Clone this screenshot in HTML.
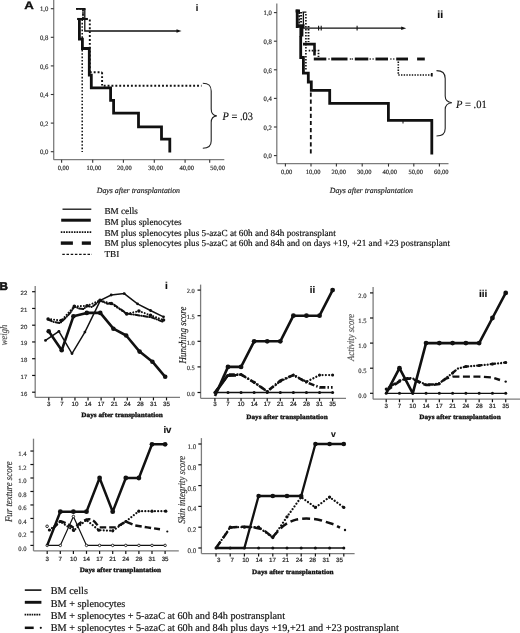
<!DOCTYPE html>
<html><head><meta charset="utf-8"><style>
html,body{margin:0;padding:0;background:#fff;width:520px;height:633px;overflow:hidden;}
svg{display:block;filter:grayscale(1);} text{text-rendering:geometricPrecision;}
</style></head><body>
<svg width="520" height="633" viewBox="0 0 520 633">
<rect width="520" height="633" fill="#fff"/>
<text x="24.20" y="8.90" font-family='"Liberation Sans", sans-serif' font-size="10.8" text-anchor="start" font-weight="bold" font-style="normal" fill="#111" stroke="#111" stroke-width="0.3" textLength="9.6" lengthAdjust="spacingAndGlyphs">A</text>
<text x="-0.50" y="289.60" font-family='"Liberation Sans", sans-serif' font-size="11.2" text-anchor="start" font-weight="bold" font-style="normal" fill="#111" stroke="#111" stroke-width="0.6" textLength="8.4" lengthAdjust="spacingAndGlyphs">B</text>
<line x1="53.70" y1="0.00" x2="53.70" y2="159.70" stroke="#7c7c7c" stroke-width="1.3" />
<line x1="53.70" y1="159.70" x2="224.30" y2="159.70" stroke="#7c7c7c" stroke-width="1.3" />
<line x1="50.80" y1="151.70" x2="53.70" y2="151.70" stroke="#333" stroke-width="1.1" />
<text x="48.30" y="154.40" font-family='"Liberation Serif", serif' font-size="6.7" text-anchor="end" font-weight="normal" font-style="normal" fill="#333" stroke="#333" stroke-width="0.18" >0,0</text>
<line x1="50.80" y1="123.10" x2="53.70" y2="123.10" stroke="#333" stroke-width="1.1" />
<text x="48.30" y="125.80" font-family='"Liberation Serif", serif' font-size="6.7" text-anchor="end" font-weight="normal" font-style="normal" fill="#333" stroke="#333" stroke-width="0.18" >0,2</text>
<line x1="50.80" y1="94.50" x2="53.70" y2="94.50" stroke="#333" stroke-width="1.1" />
<text x="48.30" y="97.20" font-family='"Liberation Serif", serif' font-size="6.7" text-anchor="end" font-weight="normal" font-style="normal" fill="#333" stroke="#333" stroke-width="0.18" >0,4</text>
<line x1="50.80" y1="65.90" x2="53.70" y2="65.90" stroke="#333" stroke-width="1.1" />
<text x="48.30" y="68.60" font-family='"Liberation Serif", serif' font-size="6.7" text-anchor="end" font-weight="normal" font-style="normal" fill="#333" stroke="#333" stroke-width="0.18" >0,6</text>
<line x1="50.80" y1="37.30" x2="53.70" y2="37.30" stroke="#333" stroke-width="1.1" />
<text x="48.30" y="40.00" font-family='"Liberation Serif", serif' font-size="6.7" text-anchor="end" font-weight="normal" font-style="normal" fill="#333" stroke="#333" stroke-width="0.18" >0,8</text>
<line x1="50.80" y1="8.70" x2="53.70" y2="8.70" stroke="#333" stroke-width="1.1" />
<text x="48.30" y="11.40" font-family='"Liberation Serif", serif' font-size="6.7" text-anchor="end" font-weight="normal" font-style="normal" fill="#333" stroke="#333" stroke-width="0.18" >1,0</text>
<line x1="61.60" y1="159.70" x2="61.60" y2="162.70" stroke="#333" stroke-width="1.1" />
<text x="63.40" y="170.40" font-family='"Liberation Serif", serif' font-size="6.5" text-anchor="middle" font-weight="normal" font-style="normal" fill="#2a2a2a" stroke="#2a2a2a" stroke-width="0.18" >0,00</text>
<line x1="92.70" y1="159.70" x2="92.70" y2="162.70" stroke="#333" stroke-width="1.1" />
<text x="93.90" y="170.40" font-family='"Liberation Serif", serif' font-size="6.5" text-anchor="middle" font-weight="normal" font-style="normal" fill="#2a2a2a" stroke="#2a2a2a" stroke-width="0.18" >10,00</text>
<line x1="123.40" y1="159.70" x2="123.40" y2="162.70" stroke="#333" stroke-width="1.1" />
<text x="124.40" y="170.40" font-family='"Liberation Serif", serif' font-size="6.5" text-anchor="middle" font-weight="normal" font-style="normal" fill="#2a2a2a" stroke="#2a2a2a" stroke-width="0.18" >20,00</text>
<line x1="154.30" y1="159.70" x2="154.30" y2="162.70" stroke="#333" stroke-width="1.1" />
<text x="155.60" y="170.40" font-family='"Liberation Serif", serif' font-size="6.5" text-anchor="middle" font-weight="normal" font-style="normal" fill="#2a2a2a" stroke="#2a2a2a" stroke-width="0.18" >30,00</text>
<line x1="185.10" y1="159.70" x2="185.10" y2="162.70" stroke="#333" stroke-width="1.1" />
<text x="186.70" y="170.40" font-family='"Liberation Serif", serif' font-size="6.5" text-anchor="middle" font-weight="normal" font-style="normal" fill="#2a2a2a" stroke="#2a2a2a" stroke-width="0.18" >40,00</text>
<line x1="209.70" y1="159.70" x2="209.70" y2="162.70" stroke="#333" stroke-width="1.1" />
<text x="217.60" y="170.40" font-family='"Liberation Serif", serif' font-size="6.5" text-anchor="middle" font-weight="normal" font-style="normal" fill="#2a2a2a" stroke="#2a2a2a" stroke-width="0.18" >50,00</text>
<text x="138.40" y="192.60" font-family='"Liberation Serif", serif' font-size="7.85" text-anchor="middle" font-weight="normal" font-style="italic" fill="#222" stroke="#222" stroke-width="0.18" >Days after transplantation</text>
<text x="195.70" y="11.40" font-family='"Liberation Sans", sans-serif' font-size="9.2" text-anchor="start" font-weight="bold" font-style="normal" fill="#111" stroke="#111" stroke-width="0.18" >i</text>
<path d="M76.5,8.9 H83 V19" fill="none" stroke="#111" stroke-width="1.4" stroke-dasharray="1.5 1.6"/>
<path d="M82.2,19.5 V152" fill="none" stroke="#111" stroke-width="1.5" stroke-dasharray="1.6 1.77"/>
<path d="M76,8.9 H85.6" fill="none" stroke="#111" stroke-width="1.8" />
<path d="M84.8,8.9 V31 H178" fill="none" stroke="#111" stroke-width="1.3" />
<path d="M181.5,31 L176.5,29.2 L176.5,32.8 Z" fill="#111"/>
<path d="M83,9.5 V19" fill="none" stroke="#111" stroke-width="1.8" stroke-dasharray="1.9 1.9"/>
<path d="M89.8,19.5 V72.3" fill="none" stroke="#111" stroke-width="1.9" stroke-dasharray="1.9 2.0"/>
<path d="M89.8,72.3 H102.1" fill="none" stroke="#111" stroke-width="1.9" stroke-dasharray="1.9 2.0"/>
<path d="M102.1,72.3 V85.6" fill="none" stroke="#111" stroke-width="1.9" stroke-dasharray="1.9 2.0"/>
<path d="M103.5,85.7 H201.5" fill="none" stroke="#111" stroke-width="1.9" stroke-dasharray="1.9 1.99" stroke-dashoffset="-0.2"/>
<path d="M77.1,19 H87.9" fill="none" stroke="#111" stroke-width="2.1" />
<path d="M79.4,19 V39.2 H82.4 V48.5 H89.3 V75.2 H91.3 V87.9 H110.6 V100.4 H113.6 V113.2 H138.5 V126.9 H161.5 V139.2 H169.8 V152.5" fill="none" stroke="#111" stroke-width="2.8" stroke-linejoin="miter"/>
<path d="M202.8,83.2 C209,83.2 211.2,85.5 211.2,91 V109 C211.2,113 213,115.5 216.8,115.9 C213,116.3 211.2,118.8 211.2,122.5 V141 C211.2,146 209,148.3 202.8,148.3" fill="none" stroke="#222" stroke-width="1.1" />
<text x="222.6" y="120.4" font-family='"Liberation Serif", serif' font-size="11.4" fill="#111" stroke="#111" stroke-width="0.15" textLength="30.4" lengthAdjust="spacingAndGlyphs"><tspan font-style="italic">P</tspan> = .03</text>
<line x1="276.80" y1="3.50" x2="276.80" y2="163.60" stroke="#7c7c7c" stroke-width="1.3" />
<line x1="276.80" y1="163.60" x2="448.50" y2="163.60" stroke="#7c7c7c" stroke-width="1.3" />
<line x1="273.90" y1="155.60" x2="276.80" y2="155.60" stroke="#333" stroke-width="1.1" />
<text x="271.90" y="158.30" font-family='"Liberation Serif", serif' font-size="6.7" text-anchor="end" font-weight="normal" font-style="normal" fill="#333" stroke="#333" stroke-width="0.18" >0,0</text>
<line x1="273.90" y1="127.00" x2="276.80" y2="127.00" stroke="#333" stroke-width="1.1" />
<text x="271.90" y="129.70" font-family='"Liberation Serif", serif' font-size="6.7" text-anchor="end" font-weight="normal" font-style="normal" fill="#333" stroke="#333" stroke-width="0.18" >0,2</text>
<line x1="273.90" y1="98.40" x2="276.80" y2="98.40" stroke="#333" stroke-width="1.1" />
<text x="271.90" y="101.10" font-family='"Liberation Serif", serif' font-size="6.7" text-anchor="end" font-weight="normal" font-style="normal" fill="#333" stroke="#333" stroke-width="0.18" >0,4</text>
<line x1="273.90" y1="69.80" x2="276.80" y2="69.80" stroke="#333" stroke-width="1.1" />
<text x="271.90" y="72.50" font-family='"Liberation Serif", serif' font-size="6.7" text-anchor="end" font-weight="normal" font-style="normal" fill="#333" stroke="#333" stroke-width="0.18" >0,6</text>
<line x1="273.90" y1="41.20" x2="276.80" y2="41.20" stroke="#333" stroke-width="1.1" />
<text x="271.90" y="43.90" font-family='"Liberation Serif", serif' font-size="6.7" text-anchor="end" font-weight="normal" font-style="normal" fill="#333" stroke="#333" stroke-width="0.18" >0,8</text>
<line x1="273.90" y1="12.60" x2="276.80" y2="12.60" stroke="#333" stroke-width="1.1" />
<text x="271.90" y="15.30" font-family='"Liberation Serif", serif' font-size="6.7" text-anchor="end" font-weight="normal" font-style="normal" fill="#333" stroke="#333" stroke-width="0.18" >1,0</text>
<line x1="285.40" y1="163.60" x2="285.40" y2="166.60" stroke="#333" stroke-width="1.1" />
<text x="286.60" y="174.00" font-family='"Liberation Serif", serif' font-size="6.5" text-anchor="middle" font-weight="normal" font-style="normal" fill="#2a2a2a" stroke="#2a2a2a" stroke-width="0.18" >0,00</text>
<line x1="311.00" y1="163.60" x2="311.00" y2="166.60" stroke="#333" stroke-width="1.1" />
<text x="313.10" y="174.00" font-family='"Liberation Serif", serif' font-size="6.5" text-anchor="middle" font-weight="normal" font-style="normal" fill="#2a2a2a" stroke="#2a2a2a" stroke-width="0.18" >10,00</text>
<line x1="336.40" y1="163.60" x2="336.40" y2="166.60" stroke="#333" stroke-width="1.1" />
<text x="338.70" y="174.00" font-family='"Liberation Serif", serif' font-size="6.5" text-anchor="middle" font-weight="normal" font-style="normal" fill="#2a2a2a" stroke="#2a2a2a" stroke-width="0.18" >20,00</text>
<line x1="362.20" y1="163.60" x2="362.20" y2="166.60" stroke="#333" stroke-width="1.1" />
<text x="364.30" y="174.00" font-family='"Liberation Serif", serif' font-size="6.5" text-anchor="middle" font-weight="normal" font-style="normal" fill="#2a2a2a" stroke="#2a2a2a" stroke-width="0.18" >30,00</text>
<line x1="388.50" y1="163.60" x2="388.50" y2="166.60" stroke="#333" stroke-width="1.1" />
<text x="389.80" y="174.00" font-family='"Liberation Serif", serif' font-size="6.5" text-anchor="middle" font-weight="normal" font-style="normal" fill="#2a2a2a" stroke="#2a2a2a" stroke-width="0.18" >40,00</text>
<line x1="413.80" y1="163.60" x2="413.80" y2="166.60" stroke="#333" stroke-width="1.1" />
<text x="415.80" y="174.00" font-family='"Liberation Serif", serif' font-size="6.5" text-anchor="middle" font-weight="normal" font-style="normal" fill="#2a2a2a" stroke="#2a2a2a" stroke-width="0.18" >50,00</text>
<line x1="439.40" y1="163.60" x2="439.40" y2="166.60" stroke="#333" stroke-width="1.1" />
<text x="441.20" y="174.00" font-family='"Liberation Serif", serif' font-size="6.5" text-anchor="middle" font-weight="normal" font-style="normal" fill="#2a2a2a" stroke="#2a2a2a" stroke-width="0.18" >60,00</text>
<text x="371.40" y="192.60" font-family='"Liberation Serif", serif' font-size="7.85" text-anchor="middle" font-weight="normal" font-style="italic" fill="#222" stroke="#222" stroke-width="0.18" >Days after transplantation</text>
<text x="437.30" y="18.30" font-family='"Liberation Sans", sans-serif' font-size="10.4" text-anchor="start" font-weight="bold" font-style="normal" fill="#111" stroke="#111" stroke-width="0.18" >ii</text>
<path d="M295.6,11 H300" fill="none" stroke="#111" stroke-width="3.0" />
<path d="M297.2,9.6 V28" fill="none" stroke="#111" stroke-width="2.8" />
<path d="M297,26 H304.5" fill="none" stroke="#111" stroke-width="3.5" />
<path d="M299.2,12 V24" fill="none" stroke="#111" stroke-width="1.8" stroke-dasharray="2 1.2"/>
<path d="M301.4,26 V36.5" fill="none" stroke="#111" stroke-width="4.0" />
<path d="M300.7,36 V57.5 H303.4 V73.2 H308.3 V82 H311.3 V90.4 H329.7 V103.3 H388.4 V120.3 H431.8 V154.5" fill="none" stroke="#111" stroke-width="2.8" stroke-linejoin="miter"/>
<line x1="403.00" y1="121.00" x2="403.00" y2="123.50" stroke="#111" stroke-width="1.0" />
<path d="M302.4,12.2 H306.4 M303.4,12.2 V28.2 H403" fill="none" stroke="#111" stroke-width="1.3" />
<line x1="318.60" y1="25.80" x2="318.60" y2="30.40" stroke="#111" stroke-width="1.1" />
<line x1="321.20" y1="25.80" x2="321.20" y2="30.40" stroke="#111" stroke-width="1.1" />
<line x1="357.10" y1="25.80" x2="357.10" y2="30.40" stroke="#111" stroke-width="1.1" />
<path d="M406.2,28.2 L401.2,26.4 L401.2,30 Z" fill="#111"/>
<path d="M303,44.1 H314.5 V55.5" fill="none" stroke="#111" stroke-width="2.6" />
<line x1="313.80" y1="59.00" x2="326.30" y2="59.00" stroke="#111" stroke-width="2.9" />
<line x1="331.20" y1="59.00" x2="347.50" y2="59.00" stroke="#111" stroke-width="2.9" />
<line x1="354.80" y1="59.00" x2="368.30" y2="59.00" stroke="#111" stroke-width="2.9" />
<line x1="375.50" y1="59.00" x2="388.00" y2="59.00" stroke="#111" stroke-width="2.9" />
<line x1="396.20" y1="59.00" x2="408.00" y2="59.00" stroke="#111" stroke-width="2.9" />
<line x1="417.10" y1="59.00" x2="424.80" y2="59.00" stroke="#111" stroke-width="2.9" />
<path d="M301.1,12 V23" fill="none" stroke="#111" stroke-width="2.0" stroke-dasharray="1.6 1.4"/>
<path d="M305.9,14 V70" fill="none" stroke="#111" stroke-width="1.6" stroke-dasharray="1.5 1.5"/>
<path d="M308.5,26 V42" fill="none" stroke="#111" stroke-width="1.9" stroke-dasharray="1.5 1.5"/>
<path d="M308.7,50.6 H318.5 V57" fill="none" stroke="#111" stroke-width="1.8" stroke-dasharray="1.5 1.5"/>
<circle cx="329.00" cy="59.00" r="0.8" fill="#111"/>
<circle cx="350.40" cy="59.00" r="0.8" fill="#111"/>
<circle cx="352.30" cy="59.00" r="0.8" fill="#111"/>
<circle cx="370.20" cy="59.00" r="0.8" fill="#111"/>
<circle cx="373.10" cy="59.00" r="0.8" fill="#111"/>
<circle cx="390.90" cy="59.00" r="0.8" fill="#111"/>
<circle cx="393.80" cy="59.00" r="0.8" fill="#111"/>
<path d="M398.3,61.5 V75 H431" fill="none" stroke="#111" stroke-width="1.6" stroke-dasharray="1.4 1.3"/>
<line x1="431.80" y1="73.00" x2="431.80" y2="76.50" stroke="#111" stroke-width="1.8" />
<path d="M310.8,91 V156" fill="none" stroke="#111" stroke-width="1.8" stroke-dasharray="4.2 2.9" stroke-dashoffset="-1.5"/>
<path d="M436.5,70.6 C442.5,70.6 445.2,73 445.2,78.5 V96 C445.2,100 447,102.3 451.9,102.7 C447,103.1 445.2,105.4 445.2,109.5 V128.5 C445.2,133.5 442.5,136 436.5,136" fill="none" stroke="#222" stroke-width="1.1" />
<text x="456.0" y="107.5" font-family='"Liberation Serif", serif' font-size="11.1" fill="#111" stroke="#111" stroke-width="0.15" textLength="30.8" lengthAdjust="spacingAndGlyphs"><tspan font-style="italic">P</tspan> = .01</text>
<line x1="62.50" y1="209.20" x2="91.30" y2="209.20" stroke="#111" stroke-width="1.3" />
<line x1="61.20" y1="220.20" x2="90.80" y2="220.20" stroke="#111" stroke-width="3.0" />
<line x1="60.80" y1="232.20" x2="91.60" y2="232.20" stroke="#111" stroke-width="1.8" stroke-dasharray="1.6 1.02"/>
<line x1="60.80" y1="243.10" x2="72.90" y2="243.10" stroke="#111" stroke-width="3.4" />
<line x1="81.80" y1="243.10" x2="90.90" y2="243.10" stroke="#111" stroke-width="3.4" />
<line x1="62.30" y1="254.40" x2="92.00" y2="254.40" stroke="#111" stroke-width="1.2" stroke-dasharray="2.5 1.7"/>
<text x="104.40" y="213.70" font-family='"Liberation Serif", serif' font-size="9.21" text-anchor="start" font-weight="normal" font-style="normal" fill="#111" stroke="#111" stroke-width="0.18" >BM cells</text>
<text x="104.40" y="224.63" font-family='"Liberation Serif", serif' font-size="9.21" text-anchor="start" font-weight="normal" font-style="normal" fill="#111" stroke="#111" stroke-width="0.18" >BM plus splenocytes</text>
<text x="104.40" y="235.56" font-family='"Liberation Serif", serif' font-size="9.21" text-anchor="start" font-weight="normal" font-style="normal" fill="#111" stroke="#111" stroke-width="0.18" >BM plus splenocytes plus 5-azaC at 60h and 84h postransplant</text>
<text x="104.40" y="246.49" font-family='"Liberation Serif", serif' font-size="9.21" text-anchor="start" font-weight="normal" font-style="normal" fill="#111" stroke="#111" stroke-width="0.18" >BM plus splenocytes plus 5-azaC at 60h and 84h and on days +19, +21 and +23 postransplant</text>
<text x="104.40" y="257.42" font-family='"Liberation Serif", serif' font-size="9.21" text-anchor="start" font-weight="normal" font-style="normal" fill="#111" stroke="#111" stroke-width="0.18" >TBI</text>
<line x1="24.80" y1="590.10" x2="41.40" y2="590.10" stroke="#111" stroke-width="1.6" />
<line x1="24.80" y1="602.30" x2="41.40" y2="602.30" stroke="#111" stroke-width="2.9" />
<line x1="24.60" y1="614.70" x2="40.50" y2="614.70" stroke="#111" stroke-width="1.7" stroke-dasharray="1.6 0.75"/>
<line x1="24.80" y1="627.80" x2="33.70" y2="627.80" stroke="#111" stroke-width="2.5" />
<circle cx="40.80" cy="627.80" r="1.1" fill="#111"/>
<text x="50.70" y="594.30" font-family='"Liberation Serif", serif' font-size="10.22" text-anchor="start" font-weight="normal" font-style="normal" fill="#111" stroke="#111" stroke-width="0.18" >BM cells</text>
<text x="50.70" y="606.50" font-family='"Liberation Serif", serif' font-size="10.22" text-anchor="start" font-weight="normal" font-style="normal" fill="#111" stroke="#111" stroke-width="0.18" >BM + splenocytes</text>
<text x="50.70" y="618.70" font-family='"Liberation Serif", serif' font-size="10.22" text-anchor="start" font-weight="normal" font-style="normal" fill="#111" stroke="#111" stroke-width="0.18" >BM + splenocytes + 5-azaC at 60h and 84h postransplant</text>
<text x="50.70" y="630.90" font-family='"Liberation Serif", serif' font-size="10.22" text-anchor="start" font-weight="normal" font-style="normal" fill="#111" stroke="#111" stroke-width="0.18" >BM + splenocytes + 5-azaC at 60h and 84h plus days +19,+21 and +23 postransplant</text>
<line x1="35.20" y1="286.00" x2="35.20" y2="397.40" stroke="#7c7c7c" stroke-width="1.3" />
<line x1="35.20" y1="397.40" x2="180.00" y2="397.40" stroke="#7c7c7c" stroke-width="1.3" />
<line x1="32.10" y1="392.20" x2="35.20" y2="392.20" stroke="#111" stroke-width="1.2" />
<text x="27.30" y="395.60" font-family='"Liberation Sans", sans-serif' font-size="6.0" text-anchor="end" font-weight="normal" font-style="normal" fill="#333" stroke="#333" stroke-width="0.15" >16</text>
<line x1="32.10" y1="375.45" x2="35.20" y2="375.45" stroke="#111" stroke-width="1.2" />
<text x="27.30" y="378.85" font-family='"Liberation Sans", sans-serif' font-size="6.0" text-anchor="end" font-weight="normal" font-style="normal" fill="#333" stroke="#333" stroke-width="0.15" >17</text>
<line x1="32.10" y1="358.70" x2="35.20" y2="358.70" stroke="#111" stroke-width="1.2" />
<text x="27.30" y="362.10" font-family='"Liberation Sans", sans-serif' font-size="6.0" text-anchor="end" font-weight="normal" font-style="normal" fill="#333" stroke="#333" stroke-width="0.15" >18</text>
<line x1="32.10" y1="341.95" x2="35.20" y2="341.95" stroke="#111" stroke-width="1.2" />
<text x="27.30" y="345.35" font-family='"Liberation Sans", sans-serif' font-size="6.0" text-anchor="end" font-weight="normal" font-style="normal" fill="#333" stroke="#333" stroke-width="0.15" >19</text>
<line x1="32.10" y1="325.20" x2="35.20" y2="325.20" stroke="#111" stroke-width="1.2" />
<text x="27.30" y="328.60" font-family='"Liberation Sans", sans-serif' font-size="6.0" text-anchor="end" font-weight="normal" font-style="normal" fill="#333" stroke="#333" stroke-width="0.15" >20</text>
<line x1="32.10" y1="308.45" x2="35.20" y2="308.45" stroke="#111" stroke-width="1.2" />
<text x="27.30" y="311.85" font-family='"Liberation Sans", sans-serif' font-size="6.0" text-anchor="end" font-weight="normal" font-style="normal" fill="#333" stroke="#333" stroke-width="0.15" >21</text>
<line x1="32.10" y1="291.70" x2="35.20" y2="291.70" stroke="#111" stroke-width="1.2" />
<text x="27.30" y="295.10" font-family='"Liberation Sans", sans-serif' font-size="6.0" text-anchor="end" font-weight="normal" font-style="normal" fill="#333" stroke="#333" stroke-width="0.15" >22</text>
<line x1="48.80" y1="397.40" x2="48.80" y2="400.40" stroke="#111" stroke-width="1.2" />
<line x1="61.88" y1="397.40" x2="61.88" y2="400.40" stroke="#111" stroke-width="1.2" />
<line x1="74.96" y1="397.40" x2="74.96" y2="400.40" stroke="#111" stroke-width="1.2" />
<line x1="88.04" y1="397.40" x2="88.04" y2="400.40" stroke="#111" stroke-width="1.2" />
<line x1="101.12" y1="397.40" x2="101.12" y2="400.40" stroke="#111" stroke-width="1.2" />
<line x1="114.20" y1="397.40" x2="114.20" y2="400.40" stroke="#111" stroke-width="1.2" />
<line x1="127.28" y1="397.40" x2="127.28" y2="400.40" stroke="#111" stroke-width="1.2" />
<line x1="140.36" y1="397.40" x2="140.36" y2="400.40" stroke="#111" stroke-width="1.2" />
<line x1="153.44" y1="397.40" x2="153.44" y2="400.40" stroke="#111" stroke-width="1.2" />
<line x1="166.52" y1="397.40" x2="166.52" y2="400.40" stroke="#111" stroke-width="1.2" />
<text x="48.80" y="406.00" font-family='"Liberation Sans", sans-serif' font-size="6.2" text-anchor="middle" font-weight="normal" font-style="normal" fill="#222" stroke="#222" stroke-width="0.2" >3</text>
<text x="61.88" y="406.00" font-family='"Liberation Sans", sans-serif' font-size="6.2" text-anchor="middle" font-weight="normal" font-style="normal" fill="#222" stroke="#222" stroke-width="0.2" >7</text>
<text x="74.96" y="406.00" font-family='"Liberation Sans", sans-serif' font-size="6.2" text-anchor="middle" font-weight="normal" font-style="normal" fill="#222" stroke="#222" stroke-width="0.2" >10</text>
<text x="88.04" y="406.00" font-family='"Liberation Sans", sans-serif' font-size="6.2" text-anchor="middle" font-weight="normal" font-style="normal" fill="#222" stroke="#222" stroke-width="0.2" >14</text>
<text x="101.12" y="406.00" font-family='"Liberation Sans", sans-serif' font-size="6.2" text-anchor="middle" font-weight="normal" font-style="normal" fill="#222" stroke="#222" stroke-width="0.2" >17</text>
<text x="114.20" y="406.00" font-family='"Liberation Sans", sans-serif' font-size="6.2" text-anchor="middle" font-weight="normal" font-style="normal" fill="#222" stroke="#222" stroke-width="0.2" >21</text>
<text x="127.28" y="406.00" font-family='"Liberation Sans", sans-serif' font-size="6.2" text-anchor="middle" font-weight="normal" font-style="normal" fill="#222" stroke="#222" stroke-width="0.2" >24</text>
<text x="140.36" y="406.00" font-family='"Liberation Sans", sans-serif' font-size="6.2" text-anchor="middle" font-weight="normal" font-style="normal" fill="#222" stroke="#222" stroke-width="0.2" >28</text>
<text x="153.44" y="406.00" font-family='"Liberation Sans", sans-serif' font-size="6.2" text-anchor="middle" font-weight="normal" font-style="normal" fill="#222" stroke="#222" stroke-width="0.2" >31</text>
<text x="166.52" y="406.00" font-family='"Liberation Sans", sans-serif' font-size="6.2" text-anchor="middle" font-weight="normal" font-style="normal" fill="#222" stroke="#222" stroke-width="0.2" >35</text>
<text x="122.10" y="417.00" font-family='"Liberation Serif", serif' font-size="6.7" text-anchor="middle" font-weight="bold" font-style="normal" fill="#111" stroke="#111" stroke-width="0.32" textLength="81.5" lengthAdjust="spacingAndGlyphs">Days after transplantation</text>
<text x="0" y="0" transform="translate(6.70,335.00) rotate(-90) scale(1,1.15)" font-family='"Liberation Serif", serif' font-size="8.6" font-style="italic" text-anchor="middle" fill="#555" stroke="#555" stroke-width="0.15">weigh</text>
<text x="164.90" y="288.80" font-family='"Liberation Sans", sans-serif' font-size="10" text-anchor="start" font-weight="bold" font-style="normal" fill="#111" stroke="#111" stroke-width="0.18" >i</text>
<path d="M45.50,340.40 L58.90,331.30 L72.00,353.50 L84.90,332.10 L100.40,300.40 L111.20,295.00 L124.20,293.60 L137.50,303.80 L150.50,310.50 L163.50,316.80" fill="none" stroke="#111" stroke-width="1.45" />
<circle cx="45.50" cy="340.40" r="1.4" fill="#111"/>
<circle cx="58.90" cy="331.30" r="1.4" fill="#111"/>
<circle cx="72.00" cy="353.50" r="1.4" fill="#111"/>
<circle cx="84.90" cy="332.10" r="1.4" fill="#111"/>
<circle cx="100.40" cy="300.40" r="1.4" fill="#111"/>
<circle cx="111.20" cy="295.00" r="1.4" fill="#111"/>
<circle cx="124.20" cy="293.60" r="1.4" fill="#111"/>
<circle cx="137.50" cy="303.80" r="1.4" fill="#111"/>
<circle cx="150.50" cy="310.50" r="1.4" fill="#111"/>
<circle cx="163.50" cy="316.80" r="1.4" fill="#111"/>
<path d="M48.10,319.00 L61.30,320.60 L74.30,306.40 L87.10,305.80 L100.00,300.40 L111.20,303.50 L126.70,313.90 L138.90,311.00 L150.50,315.30 L163.50,320.00" fill="none" stroke="#111" stroke-width="2.0" stroke-dasharray="0.01 3.0" stroke-linecap="round"/>
<path d="M48.10,319.50 L53.50,321.90 L60.00,323.20 L67.00,316.50 L71.00,311.80 L74.30,306.40 L79.00,308.50 L83.70,309.10 L87.10,305.80 L91.80,307.10 L100.00,300.40 L107.30,303.70 L112.30,303.50 L126.70,313.50 L139.50,315.50 L152.00,317.50 L163.50,322.00" fill="none" stroke="#111" stroke-width="2.0" stroke-dasharray="4 2 0.01 2" stroke-linecap="round"/>
<circle cx="48.10" cy="319.00" r="1.8" fill="#111"/>
<circle cx="61.30" cy="320.60" r="1.8" fill="#111"/>
<circle cx="74.30" cy="306.40" r="1.8" fill="#111"/>
<circle cx="87.10" cy="305.80" r="1.8" fill="#111"/>
<circle cx="100.00" cy="300.40" r="1.8" fill="#111"/>
<circle cx="111.20" cy="303.50" r="1.8" fill="#111"/>
<circle cx="126.70" cy="313.90" r="1.8" fill="#111"/>
<circle cx="138.90" cy="311.00" r="1.8" fill="#111"/>
<circle cx="150.50" cy="315.30" r="1.8" fill="#111"/>
<circle cx="163.50" cy="320.00" r="1.8" fill="#111"/>
<path d="M48.70,331.20 L61.70,350.30 L73.40,316.30 L86.80,312.90 L100.30,312.90 L113.40,328.70 L126.20,335.50 L139.60,351.60 L152.40,361.70 L165.20,376.80" fill="none" stroke="#111" stroke-width="2.6" stroke-linejoin="round"/>
<circle cx="48.70" cy="331.20" r="2.3" fill="#111"/>
<circle cx="61.70" cy="350.30" r="2.3" fill="#111"/>
<circle cx="73.40" cy="316.30" r="2.3" fill="#111"/>
<circle cx="86.80" cy="312.90" r="2.3" fill="#111"/>
<circle cx="100.30" cy="312.90" r="2.3" fill="#111"/>
<circle cx="113.40" cy="328.70" r="2.3" fill="#111"/>
<circle cx="126.20" cy="335.50" r="2.3" fill="#111"/>
<circle cx="139.60" cy="351.60" r="2.3" fill="#111"/>
<circle cx="152.40" cy="361.70" r="2.3" fill="#111"/>
<circle cx="165.20" cy="376.80" r="2.3" fill="#111"/>
<line x1="200.60" y1="284.60" x2="200.60" y2="398.30" stroke="#7c7c7c" stroke-width="1.3" />
<line x1="200.60" y1="398.30" x2="346.00" y2="398.30" stroke="#7c7c7c" stroke-width="1.3" />
<line x1="197.50" y1="392.50" x2="200.60" y2="392.50" stroke="#111" stroke-width="1.2" />
<text x="194.80" y="395.70" font-family='"Liberation Serif", serif' font-size="6.4" text-anchor="end" font-weight="normal" font-style="normal" fill="#333" stroke="#333" stroke-width="0.15" >0.0</text>
<line x1="197.50" y1="366.90" x2="200.60" y2="366.90" stroke="#111" stroke-width="1.2" />
<text x="194.80" y="370.10" font-family='"Liberation Serif", serif' font-size="6.4" text-anchor="end" font-weight="normal" font-style="normal" fill="#333" stroke="#333" stroke-width="0.15" >0.5</text>
<line x1="197.50" y1="341.30" x2="200.60" y2="341.30" stroke="#111" stroke-width="1.2" />
<text x="194.80" y="344.50" font-family='"Liberation Serif", serif' font-size="6.4" text-anchor="end" font-weight="normal" font-style="normal" fill="#333" stroke="#333" stroke-width="0.15" >1.0</text>
<line x1="197.50" y1="315.70" x2="200.60" y2="315.70" stroke="#111" stroke-width="1.2" />
<text x="194.80" y="318.90" font-family='"Liberation Serif", serif' font-size="6.4" text-anchor="end" font-weight="normal" font-style="normal" fill="#333" stroke="#333" stroke-width="0.15" >1.5</text>
<line x1="197.50" y1="290.10" x2="200.60" y2="290.10" stroke="#111" stroke-width="1.2" />
<text x="194.80" y="293.30" font-family='"Liberation Serif", serif' font-size="6.4" text-anchor="end" font-weight="normal" font-style="normal" fill="#333" stroke="#333" stroke-width="0.15" >2.0</text>
<line x1="214.90" y1="398.30" x2="214.90" y2="401.30" stroke="#111" stroke-width="1.2" />
<line x1="227.98" y1="398.30" x2="227.98" y2="401.30" stroke="#111" stroke-width="1.2" />
<line x1="241.06" y1="398.30" x2="241.06" y2="401.30" stroke="#111" stroke-width="1.2" />
<line x1="254.14" y1="398.30" x2="254.14" y2="401.30" stroke="#111" stroke-width="1.2" />
<line x1="267.22" y1="398.30" x2="267.22" y2="401.30" stroke="#111" stroke-width="1.2" />
<line x1="280.30" y1="398.30" x2="280.30" y2="401.30" stroke="#111" stroke-width="1.2" />
<line x1="293.38" y1="398.30" x2="293.38" y2="401.30" stroke="#111" stroke-width="1.2" />
<line x1="306.46" y1="398.30" x2="306.46" y2="401.30" stroke="#111" stroke-width="1.2" />
<line x1="319.54" y1="398.30" x2="319.54" y2="401.30" stroke="#111" stroke-width="1.2" />
<line x1="332.62" y1="398.30" x2="332.62" y2="401.30" stroke="#111" stroke-width="1.2" />
<text x="214.90" y="406.40" font-family='"Liberation Sans", sans-serif' font-size="6.2" text-anchor="middle" font-weight="normal" font-style="normal" fill="#222" stroke="#222" stroke-width="0.2" >3</text>
<text x="227.98" y="406.40" font-family='"Liberation Sans", sans-serif' font-size="6.2" text-anchor="middle" font-weight="normal" font-style="normal" fill="#222" stroke="#222" stroke-width="0.2" >7</text>
<text x="241.06" y="406.40" font-family='"Liberation Sans", sans-serif' font-size="6.2" text-anchor="middle" font-weight="normal" font-style="normal" fill="#222" stroke="#222" stroke-width="0.2" >10</text>
<text x="254.14" y="406.40" font-family='"Liberation Sans", sans-serif' font-size="6.2" text-anchor="middle" font-weight="normal" font-style="normal" fill="#222" stroke="#222" stroke-width="0.2" >14</text>
<text x="267.22" y="406.40" font-family='"Liberation Sans", sans-serif' font-size="6.2" text-anchor="middle" font-weight="normal" font-style="normal" fill="#222" stroke="#222" stroke-width="0.2" >17</text>
<text x="280.30" y="406.40" font-family='"Liberation Sans", sans-serif' font-size="6.2" text-anchor="middle" font-weight="normal" font-style="normal" fill="#222" stroke="#222" stroke-width="0.2" >21</text>
<text x="293.38" y="406.40" font-family='"Liberation Sans", sans-serif' font-size="6.2" text-anchor="middle" font-weight="normal" font-style="normal" fill="#222" stroke="#222" stroke-width="0.2" >24</text>
<text x="306.46" y="406.40" font-family='"Liberation Sans", sans-serif' font-size="6.2" text-anchor="middle" font-weight="normal" font-style="normal" fill="#222" stroke="#222" stroke-width="0.2" >28</text>
<text x="319.54" y="406.40" font-family='"Liberation Sans", sans-serif' font-size="6.2" text-anchor="middle" font-weight="normal" font-style="normal" fill="#222" stroke="#222" stroke-width="0.2" >31</text>
<text x="332.62" y="406.40" font-family='"Liberation Sans", sans-serif' font-size="6.2" text-anchor="middle" font-weight="normal" font-style="normal" fill="#222" stroke="#222" stroke-width="0.2" >35</text>
<text x="287.00" y="418.50" font-family='"Liberation Serif", serif' font-size="6.7" text-anchor="middle" font-weight="bold" font-style="normal" fill="#111" stroke="#111" stroke-width="0.32" textLength="81.5" lengthAdjust="spacingAndGlyphs">Days after transplantation</text>
<text x="0" y="0" transform="translate(185.50,335.00) rotate(-90) scale(1,1.15)" font-family='"Liberation Serif", serif' font-size="9.0" font-style="italic" text-anchor="middle" fill="#222" stroke="#222" stroke-width="0.15">Hunching score</text>
<text x="309.80" y="292.70" font-family='"Liberation Sans", sans-serif' font-size="9.6" text-anchor="start" font-weight="bold" font-style="normal" fill="#111" stroke="#111" stroke-width="0.18" >ii</text>
<path d="M214.90,392.50 L227.98,392.50 L241.06,392.50 L254.14,392.50 L267.22,392.50 L280.30,392.50 L293.38,392.50 L306.46,392.50 L319.54,392.50 L332.62,392.50" fill="none" stroke="#111" stroke-width="1.35" />
<circle cx="214.90" cy="392.50" r="1.5" fill="#111"/>
<circle cx="227.98" cy="392.50" r="1.5" fill="#111"/>
<circle cx="241.06" cy="392.50" r="1.5" fill="#111"/>
<circle cx="254.14" cy="392.50" r="1.5" fill="#111"/>
<circle cx="267.22" cy="392.50" r="1.5" fill="#111"/>
<circle cx="280.30" cy="392.50" r="1.5" fill="#111"/>
<circle cx="293.38" cy="392.50" r="1.5" fill="#111"/>
<circle cx="306.46" cy="392.50" r="1.5" fill="#111"/>
<circle cx="319.54" cy="392.50" r="1.5" fill="#111"/>
<circle cx="332.62" cy="392.50" r="1.5" fill="#111"/>
<path d="M214.90,392.50 L227.98,374.58 L241.06,374.58 L254.14,382.26 L267.22,391.48 L280.30,380.72 L293.38,375.09 L306.46,382.26 L319.54,387.38 L332.62,387.38" fill="none" stroke="#111" stroke-width="2.6" stroke-dasharray="6 2 1.5 2"/>
<path d="M214.90,392.50 L227.98,375.60 L241.06,374.58 L254.14,382.26 L267.22,391.48 L280.30,381.24 L293.38,375.09 L306.46,381.75 L319.54,375.09 L332.62,375.09" fill="none" stroke="#111" stroke-width="2.2" stroke-dasharray="0.01 3.3" stroke-linecap="round"/>
<circle cx="227.98" cy="375.60" r="1.5" fill="#111"/>
<circle cx="241.06" cy="374.58" r="1.5" fill="#111"/>
<circle cx="254.14" cy="382.26" r="1.5" fill="#111"/>
<circle cx="267.22" cy="391.48" r="1.5" fill="#111"/>
<circle cx="280.30" cy="381.24" r="1.5" fill="#111"/>
<circle cx="293.38" cy="375.09" r="1.5" fill="#111"/>
<circle cx="306.46" cy="381.75" r="1.5" fill="#111"/>
<circle cx="319.54" cy="375.09" r="1.5" fill="#111"/>
<circle cx="332.62" cy="375.09" r="1.5" fill="#111"/>
<path d="M215,396 L227.98,366.90" fill="none" stroke="#111" stroke-width="2.6" />
<path d="M216.5,391 L227.5,375.6 L236,375.4" fill="none" stroke="#111" stroke-width="2.8" />
<path d="M227.98,366.90 L241.06,366.90 L254.14,341.30 L267.22,341.30 L280.30,341.30 L293.38,315.70 L306.46,315.70 L319.54,315.70 L332.62,290.10" fill="none" stroke="#111" stroke-width="2.6" stroke-linejoin="round"/>
<circle cx="227.98" cy="366.90" r="2.4" fill="#111"/>
<circle cx="241.06" cy="366.90" r="2.4" fill="#111"/>
<circle cx="254.14" cy="341.30" r="2.4" fill="#111"/>
<circle cx="267.22" cy="341.30" r="2.4" fill="#111"/>
<circle cx="280.30" cy="341.30" r="2.4" fill="#111"/>
<circle cx="293.38" cy="315.70" r="2.4" fill="#111"/>
<circle cx="306.46" cy="315.70" r="2.4" fill="#111"/>
<circle cx="319.54" cy="315.70" r="2.4" fill="#111"/>
<circle cx="332.62" cy="290.10" r="2.4" fill="#111"/>
<line x1="373.10" y1="286.90" x2="373.10" y2="399.20" stroke="#7c7c7c" stroke-width="1.3" />
<line x1="373.10" y1="399.20" x2="520.00" y2="399.20" stroke="#7c7c7c" stroke-width="1.3" />
<line x1="370.00" y1="393.30" x2="373.10" y2="393.30" stroke="#111" stroke-width="1.2" />
<text x="366.60" y="397.90" font-family='"Liberation Serif", serif' font-size="6.6" text-anchor="end" font-weight="normal" font-style="normal" fill="#333" stroke="#333" stroke-width="0.15" >0.0</text>
<line x1="370.00" y1="368.20" x2="373.10" y2="368.20" stroke="#111" stroke-width="1.2" />
<text x="366.60" y="372.80" font-family='"Liberation Serif", serif' font-size="6.6" text-anchor="end" font-weight="normal" font-style="normal" fill="#333" stroke="#333" stroke-width="0.15" >0.5</text>
<line x1="370.00" y1="343.10" x2="373.10" y2="343.10" stroke="#111" stroke-width="1.2" />
<text x="366.60" y="347.70" font-family='"Liberation Serif", serif' font-size="6.6" text-anchor="end" font-weight="normal" font-style="normal" fill="#333" stroke="#333" stroke-width="0.15" >1.0</text>
<line x1="370.00" y1="318.00" x2="373.10" y2="318.00" stroke="#111" stroke-width="1.2" />
<text x="366.60" y="322.60" font-family='"Liberation Serif", serif' font-size="6.6" text-anchor="end" font-weight="normal" font-style="normal" fill="#333" stroke="#333" stroke-width="0.15" >1.5</text>
<line x1="370.00" y1="292.90" x2="373.10" y2="292.90" stroke="#111" stroke-width="1.2" />
<text x="366.60" y="297.50" font-family='"Liberation Serif", serif' font-size="6.6" text-anchor="end" font-weight="normal" font-style="normal" fill="#333" stroke="#333" stroke-width="0.15" >2.0</text>
<line x1="386.20" y1="399.20" x2="386.20" y2="402.20" stroke="#111" stroke-width="1.2" />
<line x1="399.48" y1="399.20" x2="399.48" y2="402.20" stroke="#111" stroke-width="1.2" />
<line x1="412.76" y1="399.20" x2="412.76" y2="402.20" stroke="#111" stroke-width="1.2" />
<line x1="426.04" y1="399.20" x2="426.04" y2="402.20" stroke="#111" stroke-width="1.2" />
<line x1="439.32" y1="399.20" x2="439.32" y2="402.20" stroke="#111" stroke-width="1.2" />
<line x1="452.60" y1="399.20" x2="452.60" y2="402.20" stroke="#111" stroke-width="1.2" />
<line x1="465.88" y1="399.20" x2="465.88" y2="402.20" stroke="#111" stroke-width="1.2" />
<line x1="479.16" y1="399.20" x2="479.16" y2="402.20" stroke="#111" stroke-width="1.2" />
<line x1="492.44" y1="399.20" x2="492.44" y2="402.20" stroke="#111" stroke-width="1.2" />
<line x1="505.72" y1="399.20" x2="505.72" y2="402.20" stroke="#111" stroke-width="1.2" />
<text x="386.20" y="407.70" font-family='"Liberation Sans", sans-serif' font-size="6.2" text-anchor="middle" font-weight="normal" font-style="normal" fill="#222" stroke="#222" stroke-width="0.2" >3</text>
<text x="399.48" y="407.70" font-family='"Liberation Sans", sans-serif' font-size="6.2" text-anchor="middle" font-weight="normal" font-style="normal" fill="#222" stroke="#222" stroke-width="0.2" >7</text>
<text x="412.76" y="407.70" font-family='"Liberation Sans", sans-serif' font-size="6.2" text-anchor="middle" font-weight="normal" font-style="normal" fill="#222" stroke="#222" stroke-width="0.2" >10</text>
<text x="426.04" y="407.70" font-family='"Liberation Sans", sans-serif' font-size="6.2" text-anchor="middle" font-weight="normal" font-style="normal" fill="#222" stroke="#222" stroke-width="0.2" >14</text>
<text x="439.32" y="407.70" font-family='"Liberation Sans", sans-serif' font-size="6.2" text-anchor="middle" font-weight="normal" font-style="normal" fill="#222" stroke="#222" stroke-width="0.2" >17</text>
<text x="452.60" y="407.70" font-family='"Liberation Sans", sans-serif' font-size="6.2" text-anchor="middle" font-weight="normal" font-style="normal" fill="#222" stroke="#222" stroke-width="0.2" >21</text>
<text x="465.88" y="407.70" font-family='"Liberation Sans", sans-serif' font-size="6.2" text-anchor="middle" font-weight="normal" font-style="normal" fill="#222" stroke="#222" stroke-width="0.2" >24</text>
<text x="479.16" y="407.70" font-family='"Liberation Sans", sans-serif' font-size="6.2" text-anchor="middle" font-weight="normal" font-style="normal" fill="#222" stroke="#222" stroke-width="0.2" >28</text>
<text x="492.44" y="407.70" font-family='"Liberation Sans", sans-serif' font-size="6.2" text-anchor="middle" font-weight="normal" font-style="normal" fill="#222" stroke="#222" stroke-width="0.2" >31</text>
<text x="505.72" y="407.70" font-family='"Liberation Sans", sans-serif' font-size="6.2" text-anchor="middle" font-weight="normal" font-style="normal" fill="#222" stroke="#222" stroke-width="0.2" >35</text>
<text x="460.00" y="418.90" font-family='"Liberation Serif", serif' font-size="6.7" text-anchor="middle" font-weight="bold" font-style="normal" fill="#111" stroke="#111" stroke-width="0.32" textLength="81.5" lengthAdjust="spacingAndGlyphs">Days after transplantation</text>
<text x="0" y="0" transform="translate(354.30,337.40) rotate(-90) scale(1,1.15)" font-family='"Liberation Serif", serif' font-size="8.7" font-style="italic" text-anchor="middle" fill="#555" stroke="#555" stroke-width="0.15">Activity score</text>
<text x="479.00" y="296.50" font-family='"Liberation Sans", sans-serif' font-size="10" text-anchor="start" font-weight="bold" font-style="normal" fill="#111" stroke="#111" stroke-width="0.18" >iii</text>
<path d="M386.20,393.30 L399.48,393.30 L412.76,393.30 L426.04,393.30 L439.32,393.30 L452.60,393.30 L465.88,393.30 L479.16,393.30 L492.44,393.30 L505.72,393.30" fill="none" stroke="#111" stroke-width="1.35" />
<circle cx="386.20" cy="393.30" r="1.5" fill="#111"/>
<circle cx="399.48" cy="393.30" r="1.5" fill="#111"/>
<circle cx="412.76" cy="393.30" r="1.5" fill="#111"/>
<circle cx="426.04" cy="393.30" r="1.5" fill="#111"/>
<circle cx="439.32" cy="393.30" r="1.5" fill="#111"/>
<circle cx="452.60" cy="393.30" r="1.5" fill="#111"/>
<circle cx="465.88" cy="393.30" r="1.5" fill="#111"/>
<circle cx="479.16" cy="393.30" r="1.5" fill="#111"/>
<circle cx="492.44" cy="393.30" r="1.5" fill="#111"/>
<circle cx="505.72" cy="393.30" r="1.5" fill="#111"/>
<path d="M386.20,391.00 L399.50,381.50 L408.00,378.50 L413.00,379.00 L420.00,383.00 L426.00,385.00 L433.00,385.00 L439.30,384.00 L446.00,378.50 L452.60,376.60 L479.20,376.60 L492.40,377.50 L500.00,380.00" fill="none" stroke="#111" stroke-width="2.4" stroke-dasharray="7 3.5"/>
<circle cx="505.70" cy="381.60" r="1.2" fill="#111"/>
<path d="M386.20,389.00 L399.50,380.80 L408.00,378.00 L413.00,378.50 L420.00,382.00 L426.00,384.50 L433.00,384.50 L440.00,383.00 L446.00,378.00 L452.60,373.00 L458.00,368.50 L465.90,366.50 L479.20,365.50 L492.40,364.00 L505.70,362.50" fill="none" stroke="#111" stroke-width="2.3" stroke-dasharray="0.01 3.0 0.01 3.0 4.5 3" stroke-linecap="round"/>
<circle cx="386.20" cy="389.00" r="1.5" fill="#111"/>
<circle cx="399.50" cy="380.80" r="1.5" fill="#111"/>
<circle cx="452.60" cy="373.00" r="1.5" fill="#111"/>
<circle cx="465.90" cy="366.50" r="1.5" fill="#111"/>
<circle cx="479.20" cy="365.50" r="1.5" fill="#111"/>
<circle cx="492.40" cy="364.00" r="1.5" fill="#111"/>
<circle cx="505.70" cy="362.50" r="1.5" fill="#111"/>
<path d="M386.20,393.30 L399.48,368.20 L412.76,393.30 L426.04,343.10 L439.32,343.10 L452.60,343.10 L465.88,343.10 L479.16,343.10 L492.44,318.00 L505.72,292.90" fill="none" stroke="#111" stroke-width="2.6" stroke-linejoin="round"/>
<circle cx="399.48" cy="368.20" r="2.4" fill="#111"/>
<circle cx="426.04" cy="343.10" r="2.4" fill="#111"/>
<circle cx="439.32" cy="343.10" r="2.4" fill="#111"/>
<circle cx="452.60" cy="343.10" r="2.4" fill="#111"/>
<circle cx="465.88" cy="343.10" r="2.4" fill="#111"/>
<circle cx="479.16" cy="343.10" r="2.4" fill="#111"/>
<circle cx="492.44" cy="318.00" r="2.4" fill="#111"/>
<circle cx="505.72" cy="292.90" r="2.4" fill="#111"/>
<line x1="33.50" y1="438.70" x2="33.50" y2="550.90" stroke="#7c7c7c" stroke-width="1.3" />
<line x1="33.50" y1="550.90" x2="178.80" y2="550.90" stroke="#7c7c7c" stroke-width="1.3" />
<line x1="30.40" y1="545.40" x2="33.50" y2="545.40" stroke="#111" stroke-width="1.2" />
<text x="26.60" y="550.50" font-family='"Liberation Serif", serif' font-size="6.6" text-anchor="end" font-weight="normal" font-style="normal" fill="#333" stroke="#333" stroke-width="0.15" >0.0</text>
<line x1="30.40" y1="531.92" x2="33.50" y2="531.92" stroke="#111" stroke-width="1.2" />
<text x="26.60" y="537.02" font-family='"Liberation Serif", serif' font-size="6.6" text-anchor="end" font-weight="normal" font-style="normal" fill="#333" stroke="#333" stroke-width="0.15" >0.2</text>
<line x1="30.40" y1="518.44" x2="33.50" y2="518.44" stroke="#111" stroke-width="1.2" />
<text x="26.60" y="523.54" font-family='"Liberation Serif", serif' font-size="6.6" text-anchor="end" font-weight="normal" font-style="normal" fill="#333" stroke="#333" stroke-width="0.15" >0.4</text>
<line x1="30.40" y1="504.96" x2="33.50" y2="504.96" stroke="#111" stroke-width="1.2" />
<text x="26.60" y="510.06" font-family='"Liberation Serif", serif' font-size="6.6" text-anchor="end" font-weight="normal" font-style="normal" fill="#333" stroke="#333" stroke-width="0.15" >0.6</text>
<line x1="30.40" y1="491.48" x2="33.50" y2="491.48" stroke="#111" stroke-width="1.2" />
<text x="26.60" y="496.58" font-family='"Liberation Serif", serif' font-size="6.6" text-anchor="end" font-weight="normal" font-style="normal" fill="#333" stroke="#333" stroke-width="0.15" >0.8</text>
<line x1="30.40" y1="478.00" x2="33.50" y2="478.00" stroke="#111" stroke-width="1.2" />
<text x="26.60" y="483.10" font-family='"Liberation Serif", serif' font-size="6.6" text-anchor="end" font-weight="normal" font-style="normal" fill="#333" stroke="#333" stroke-width="0.15" >1.0</text>
<line x1="30.40" y1="464.52" x2="33.50" y2="464.52" stroke="#111" stroke-width="1.2" />
<text x="26.60" y="469.62" font-family='"Liberation Serif", serif' font-size="6.6" text-anchor="end" font-weight="normal" font-style="normal" fill="#333" stroke="#333" stroke-width="0.15" >1.2</text>
<line x1="30.40" y1="451.04" x2="33.50" y2="451.04" stroke="#111" stroke-width="1.2" />
<text x="26.60" y="456.14" font-family='"Liberation Serif", serif' font-size="6.6" text-anchor="end" font-weight="normal" font-style="normal" fill="#333" stroke="#333" stroke-width="0.15" >1.4</text>
<line x1="47.20" y1="550.90" x2="47.20" y2="553.90" stroke="#111" stroke-width="1.2" />
<line x1="60.30" y1="550.90" x2="60.30" y2="553.90" stroke="#111" stroke-width="1.2" />
<line x1="73.40" y1="550.90" x2="73.40" y2="553.90" stroke="#111" stroke-width="1.2" />
<line x1="86.50" y1="550.90" x2="86.50" y2="553.90" stroke="#111" stroke-width="1.2" />
<line x1="99.60" y1="550.90" x2="99.60" y2="553.90" stroke="#111" stroke-width="1.2" />
<line x1="112.70" y1="550.90" x2="112.70" y2="553.90" stroke="#111" stroke-width="1.2" />
<line x1="125.80" y1="550.90" x2="125.80" y2="553.90" stroke="#111" stroke-width="1.2" />
<line x1="138.90" y1="550.90" x2="138.90" y2="553.90" stroke="#111" stroke-width="1.2" />
<line x1="152.00" y1="550.90" x2="152.00" y2="553.90" stroke="#111" stroke-width="1.2" />
<line x1="165.10" y1="550.90" x2="165.10" y2="553.90" stroke="#111" stroke-width="1.2" />
<text x="47.20" y="560.60" font-family='"Liberation Sans", sans-serif' font-size="6.2" text-anchor="middle" font-weight="normal" font-style="normal" fill="#222" stroke="#222" stroke-width="0.2" >3</text>
<text x="60.30" y="560.60" font-family='"Liberation Sans", sans-serif' font-size="6.2" text-anchor="middle" font-weight="normal" font-style="normal" fill="#222" stroke="#222" stroke-width="0.2" >7</text>
<text x="73.40" y="560.60" font-family='"Liberation Sans", sans-serif' font-size="6.2" text-anchor="middle" font-weight="normal" font-style="normal" fill="#222" stroke="#222" stroke-width="0.2" >10</text>
<text x="86.50" y="560.60" font-family='"Liberation Sans", sans-serif' font-size="6.2" text-anchor="middle" font-weight="normal" font-style="normal" fill="#222" stroke="#222" stroke-width="0.2" >14</text>
<text x="99.60" y="560.60" font-family='"Liberation Sans", sans-serif' font-size="6.2" text-anchor="middle" font-weight="normal" font-style="normal" fill="#222" stroke="#222" stroke-width="0.2" >17</text>
<text x="112.70" y="560.60" font-family='"Liberation Sans", sans-serif' font-size="6.2" text-anchor="middle" font-weight="normal" font-style="normal" fill="#222" stroke="#222" stroke-width="0.2" >21</text>
<text x="125.80" y="560.60" font-family='"Liberation Sans", sans-serif' font-size="6.2" text-anchor="middle" font-weight="normal" font-style="normal" fill="#222" stroke="#222" stroke-width="0.2" >24</text>
<text x="138.90" y="560.60" font-family='"Liberation Sans", sans-serif' font-size="6.2" text-anchor="middle" font-weight="normal" font-style="normal" fill="#222" stroke="#222" stroke-width="0.2" >28</text>
<text x="152.00" y="560.60" font-family='"Liberation Sans", sans-serif' font-size="6.2" text-anchor="middle" font-weight="normal" font-style="normal" fill="#222" stroke="#222" stroke-width="0.2" >31</text>
<text x="165.10" y="560.60" font-family='"Liberation Sans", sans-serif' font-size="6.2" text-anchor="middle" font-weight="normal" font-style="normal" fill="#222" stroke="#222" stroke-width="0.2" >35</text>
<text x="120.40" y="571.60" font-family='"Liberation Serif", serif' font-size="6.7" text-anchor="middle" font-weight="bold" font-style="normal" fill="#111" stroke="#111" stroke-width="0.32" textLength="81.5" lengthAdjust="spacingAndGlyphs">Days after transplantation</text>
<text x="0" y="0" transform="translate(11.90,491.70) rotate(-90) scale(1,1.15)" font-family='"Liberation Serif", serif' font-size="8.85" font-style="italic" text-anchor="middle" fill="#333" stroke="#333" stroke-width="0.15">Fur texture score</text>
<text x="163.40" y="432.80" font-family='"Liberation Sans", sans-serif' font-size="9.6" text-anchor="start" font-weight="bold" font-style="normal" fill="#111" stroke="#111" stroke-width="0.18" >iv</text>
<path d="M47.20,545.40 L60.30,545.40 L73.40,516.42 L86.50,545.40 L99.60,545.40 L112.70,545.40 L125.80,545.40 L138.90,545.40 L152.00,545.40 L165.10,545.40" fill="none" stroke="#111" stroke-width="1.2" />
<circle cx="47.20" cy="545.40" r="1.25" fill="white" stroke="#111" stroke-width="0.85"/>
<circle cx="60.30" cy="545.40" r="1.25" fill="white" stroke="#111" stroke-width="0.85"/>
<circle cx="73.40" cy="516.42" r="1.25" fill="white" stroke="#111" stroke-width="0.85"/>
<circle cx="86.50" cy="545.40" r="1.25" fill="white" stroke="#111" stroke-width="0.85"/>
<circle cx="99.60" cy="545.40" r="1.25" fill="white" stroke="#111" stroke-width="0.85"/>
<circle cx="112.70" cy="545.40" r="1.25" fill="white" stroke="#111" stroke-width="0.85"/>
<circle cx="125.80" cy="545.40" r="1.25" fill="white" stroke="#111" stroke-width="0.85"/>
<circle cx="138.90" cy="545.40" r="1.25" fill="white" stroke="#111" stroke-width="0.85"/>
<circle cx="152.00" cy="545.40" r="1.25" fill="white" stroke="#111" stroke-width="0.85"/>
<circle cx="165.10" cy="545.40" r="1.25" fill="white" stroke="#111" stroke-width="0.85"/>
<circle cx="47.10" cy="526.30" r="1.3" fill="white" stroke="#111" stroke-width="0.9"/>
<path d="M53,528.5 L60.3,521.2 C64,522 68,524 73.6,527.8 C78,525 82,521 86.4,519.6 C90,518.5 93,519.5 96.5,524 L99.6,527.4 L115.8,527.4 L125.8,521.5 L135,525.4 L147.3,527.4 L160,529.3" fill="none" stroke="#111" stroke-width="2.4" stroke-dasharray="6.5 3"/>
<circle cx="167.30" cy="531.50" r="1.1" fill="#111"/>
<path d="M49.40,530.00 L60.30,521.50 L73.60,530.50 L86.40,520.00 L98.80,530.20 L112.70,530.80 L125.80,521.50 L138.80,511.20 L152.00,511.20 L165.80,511.20" fill="none" stroke="#111" stroke-width="2.2" stroke-dasharray="0.01 3.2" stroke-linecap="round"/>
<circle cx="49.40" cy="530.00" r="1.6" fill="#111"/>
<circle cx="60.30" cy="521.50" r="1.6" fill="#111"/>
<circle cx="73.60" cy="530.50" r="1.6" fill="#111"/>
<circle cx="86.40" cy="520.00" r="1.6" fill="#111"/>
<circle cx="98.80" cy="530.20" r="1.6" fill="#111"/>
<circle cx="112.70" cy="530.80" r="1.6" fill="#111"/>
<circle cx="125.80" cy="521.50" r="1.6" fill="#111"/>
<circle cx="138.80" cy="511.20" r="1.6" fill="#111"/>
<circle cx="152.00" cy="511.20" r="1.6" fill="#111"/>
<circle cx="165.80" cy="511.20" r="1.6" fill="#111"/>
<path d="M47.20,545.40 L60.30,511.70 L73.40,511.70 L86.50,511.70 L99.60,478.00 L112.70,511.70 L125.80,478.00 L138.90,478.00 L152.00,444.30 L165.10,444.30" fill="none" stroke="#111" stroke-width="2.5" stroke-linejoin="round"/>
<circle cx="60.30" cy="511.70" r="2.4" fill="#111"/>
<circle cx="73.40" cy="511.70" r="2.4" fill="#111"/>
<circle cx="86.50" cy="511.70" r="2.4" fill="#111"/>
<circle cx="99.60" cy="478.00" r="2.4" fill="#111"/>
<circle cx="112.70" cy="511.70" r="2.4" fill="#111"/>
<circle cx="125.80" cy="478.00" r="2.4" fill="#111"/>
<circle cx="138.90" cy="478.00" r="2.4" fill="#111"/>
<circle cx="152.00" cy="444.30" r="2.4" fill="#111"/>
<circle cx="165.10" cy="444.30" r="2.4" fill="#111"/>
<line x1="201.40" y1="438.10" x2="201.40" y2="553.60" stroke="#7c7c7c" stroke-width="1.3" />
<line x1="201.40" y1="553.60" x2="354.60" y2="553.60" stroke="#7c7c7c" stroke-width="1.3" />
<line x1="198.30" y1="548.00" x2="201.40" y2="548.00" stroke="#111" stroke-width="1.2" />
<text x="196.20" y="553.00" font-family='"Liberation Serif", serif' font-size="7.0" text-anchor="end" font-weight="normal" font-style="normal" fill="#333" stroke="#333" stroke-width="0.15" >0.0</text>
<line x1="198.30" y1="527.20" x2="201.40" y2="527.20" stroke="#111" stroke-width="1.2" />
<text x="196.20" y="532.20" font-family='"Liberation Serif", serif' font-size="7.0" text-anchor="end" font-weight="normal" font-style="normal" fill="#333" stroke="#333" stroke-width="0.15" >0.2</text>
<line x1="198.30" y1="506.40" x2="201.40" y2="506.40" stroke="#111" stroke-width="1.2" />
<text x="196.20" y="511.40" font-family='"Liberation Serif", serif' font-size="7.0" text-anchor="end" font-weight="normal" font-style="normal" fill="#333" stroke="#333" stroke-width="0.15" >0.4</text>
<line x1="198.30" y1="485.60" x2="201.40" y2="485.60" stroke="#111" stroke-width="1.2" />
<text x="196.20" y="490.60" font-family='"Liberation Serif", serif' font-size="7.0" text-anchor="end" font-weight="normal" font-style="normal" fill="#333" stroke="#333" stroke-width="0.15" >0.6</text>
<line x1="198.30" y1="464.80" x2="201.40" y2="464.80" stroke="#111" stroke-width="1.2" />
<text x="196.20" y="469.80" font-family='"Liberation Serif", serif' font-size="7.0" text-anchor="end" font-weight="normal" font-style="normal" fill="#333" stroke="#333" stroke-width="0.15" >0.8</text>
<line x1="198.30" y1="444.00" x2="201.40" y2="444.00" stroke="#111" stroke-width="1.2" />
<text x="196.20" y="449.00" font-family='"Liberation Serif", serif' font-size="7.0" text-anchor="end" font-weight="normal" font-style="normal" fill="#333" stroke="#333" stroke-width="0.15" >1.0</text>
<line x1="216.00" y1="553.60" x2="216.00" y2="556.60" stroke="#111" stroke-width="1.2" />
<line x1="230.20" y1="553.60" x2="230.20" y2="556.60" stroke="#111" stroke-width="1.2" />
<line x1="244.40" y1="553.60" x2="244.40" y2="556.60" stroke="#111" stroke-width="1.2" />
<line x1="258.60" y1="553.60" x2="258.60" y2="556.60" stroke="#111" stroke-width="1.2" />
<line x1="272.80" y1="553.60" x2="272.80" y2="556.60" stroke="#111" stroke-width="1.2" />
<line x1="287.00" y1="553.60" x2="287.00" y2="556.60" stroke="#111" stroke-width="1.2" />
<line x1="301.20" y1="553.60" x2="301.20" y2="556.60" stroke="#111" stroke-width="1.2" />
<line x1="315.40" y1="553.60" x2="315.40" y2="556.60" stroke="#111" stroke-width="1.2" />
<line x1="329.60" y1="553.60" x2="329.60" y2="556.60" stroke="#111" stroke-width="1.2" />
<line x1="343.80" y1="553.60" x2="343.80" y2="556.60" stroke="#111" stroke-width="1.2" />
<text x="218.80" y="562.20" font-family='"Liberation Sans", sans-serif' font-size="6.2" text-anchor="middle" font-weight="normal" font-style="normal" fill="#222" stroke="#222" stroke-width="0.2" >3</text>
<text x="232.20" y="562.20" font-family='"Liberation Sans", sans-serif' font-size="6.2" text-anchor="middle" font-weight="normal" font-style="normal" fill="#222" stroke="#222" stroke-width="0.2" >7</text>
<text x="245.60" y="562.20" font-family='"Liberation Sans", sans-serif' font-size="6.2" text-anchor="middle" font-weight="normal" font-style="normal" fill="#222" stroke="#222" stroke-width="0.2" >10</text>
<text x="259.00" y="562.20" font-family='"Liberation Sans", sans-serif' font-size="6.2" text-anchor="middle" font-weight="normal" font-style="normal" fill="#222" stroke="#222" stroke-width="0.2" >14</text>
<text x="272.40" y="562.20" font-family='"Liberation Sans", sans-serif' font-size="6.2" text-anchor="middle" font-weight="normal" font-style="normal" fill="#222" stroke="#222" stroke-width="0.2" >17</text>
<text x="285.80" y="562.20" font-family='"Liberation Sans", sans-serif' font-size="6.2" text-anchor="middle" font-weight="normal" font-style="normal" fill="#222" stroke="#222" stroke-width="0.2" >21</text>
<text x="299.20" y="562.20" font-family='"Liberation Sans", sans-serif' font-size="6.2" text-anchor="middle" font-weight="normal" font-style="normal" fill="#222" stroke="#222" stroke-width="0.2" >24</text>
<text x="312.60" y="562.20" font-family='"Liberation Sans", sans-serif' font-size="6.2" text-anchor="middle" font-weight="normal" font-style="normal" fill="#222" stroke="#222" stroke-width="0.2" >28</text>
<text x="326.00" y="562.20" font-family='"Liberation Sans", sans-serif' font-size="6.2" text-anchor="middle" font-weight="normal" font-style="normal" fill="#222" stroke="#222" stroke-width="0.2" >31</text>
<text x="339.40" y="562.20" font-family='"Liberation Sans", sans-serif' font-size="6.2" text-anchor="middle" font-weight="normal" font-style="normal" fill="#222" stroke="#222" stroke-width="0.2" >35</text>
<text x="292.80" y="573.80" font-family='"Liberation Serif", serif' font-size="6.7" text-anchor="middle" font-weight="bold" font-style="normal" fill="#111" stroke="#111" stroke-width="0.32" textLength="81.5" lengthAdjust="spacingAndGlyphs">Days after transplantation</text>
<text x="0" y="0" transform="translate(184.70,489.70) rotate(-90) scale(1,1.15)" font-family='"Liberation Serif", serif' font-size="8.75" font-style="italic" text-anchor="middle" fill="#333" stroke="#333" stroke-width="0.15">Skin integrity score</text>
<text x="331.10" y="436.70" font-family='"Liberation Sans", sans-serif' font-size="8.6" text-anchor="start" font-weight="bold" font-style="normal" fill="#111" stroke="#111" stroke-width="0.18" >v</text>
<path d="M216.00,548.00 L230.20,548.00 L244.40,548.00 L258.60,548.00 L272.80,548.00 L287.00,548.00 L301.20,548.00 L315.40,548.00 L329.60,548.00 L343.80,548.00" fill="none" stroke="#111" stroke-width="1.35" />
<circle cx="216.00" cy="548.00" r="1.5" fill="#111"/>
<circle cx="230.20" cy="548.00" r="1.5" fill="#111"/>
<circle cx="244.40" cy="548.00" r="1.5" fill="#111"/>
<circle cx="258.60" cy="548.00" r="1.5" fill="#111"/>
<circle cx="272.80" cy="548.00" r="1.5" fill="#111"/>
<circle cx="287.00" cy="548.00" r="1.5" fill="#111"/>
<circle cx="301.20" cy="548.00" r="1.5" fill="#111"/>
<circle cx="315.40" cy="548.00" r="1.5" fill="#111"/>
<circle cx="329.60" cy="548.00" r="1.5" fill="#111"/>
<circle cx="343.80" cy="548.00" r="1.5" fill="#111"/>
<path d="M216,548 L230.2,527.8 C240,526.3 255,526.3 263,529.5 L272.6,537.2 M272.6,537.2 L279,530 C284,524.5 290,521 297,519.4 C303,518.3 312,518.2 320.6,520.2 L333.6,524.3 L340,527.6" fill="none" stroke="#111" stroke-width="2.5" stroke-dasharray="8 4"/>
<circle cx="345.00" cy="530.00" r="1.2" fill="#111"/>
<path d="M216.00,548.00 L230.20,527.20 L244.40,527.20 L258.60,527.20 L272.80,537.60 L287.00,516.80 L301.20,497.04 L315.40,507.44 L329.60,497.04 L343.80,507.44" fill="none" stroke="#111" stroke-width="2.2" stroke-dasharray="0.01 3.3" stroke-linecap="round"/>
<circle cx="230.20" cy="527.20" r="1.6" fill="#111"/>
<circle cx="244.40" cy="527.20" r="1.6" fill="#111"/>
<circle cx="258.60" cy="527.20" r="1.6" fill="#111"/>
<circle cx="272.80" cy="537.60" r="1.6" fill="#111"/>
<circle cx="287.00" cy="516.80" r="1.6" fill="#111"/>
<circle cx="301.20" cy="497.04" r="1.6" fill="#111"/>
<circle cx="315.40" cy="507.44" r="1.6" fill="#111"/>
<circle cx="329.60" cy="497.04" r="1.6" fill="#111"/>
<circle cx="343.80" cy="507.44" r="1.6" fill="#111"/>
<path d="M216.00,548.00 L230.20,548.00 L244.40,548.00 L258.60,496.00 L272.80,496.00 L287.00,496.00 L301.20,496.00 L315.40,444.00 L329.60,444.00 L343.80,444.00" fill="none" stroke="#111" stroke-width="2.3" stroke-linejoin="round"/>
<circle cx="258.60" cy="496.00" r="2.3" fill="#111"/>
<circle cx="272.80" cy="496.00" r="2.3" fill="#111"/>
<circle cx="287.00" cy="496.00" r="2.3" fill="#111"/>
<circle cx="301.20" cy="496.00" r="2.3" fill="#111"/>
<circle cx="315.40" cy="444.00" r="2.3" fill="#111"/>
<circle cx="329.60" cy="444.00" r="2.3" fill="#111"/>
<circle cx="343.80" cy="444.00" r="2.3" fill="#111"/>
</svg>
</body></html>
